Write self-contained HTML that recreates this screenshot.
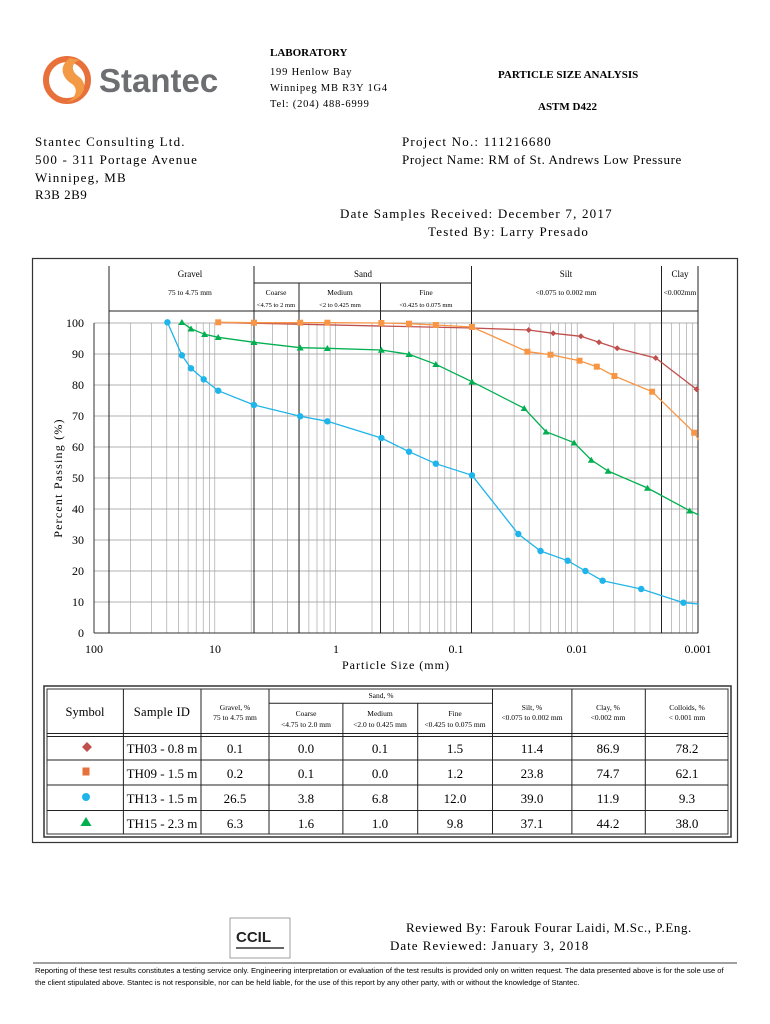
<!DOCTYPE html>
<html><head><meta charset="utf-8"><style>
html,body{margin:0;padding:0;background:#fff}
svg{display:block}
.s{font-family:"Liberation Serif",serif}
.a{font-family:"Liberation Sans",sans-serif}
</style></head><body>
<svg width="770" height="1024" viewBox="0 0 770 1024" xmlns="http://www.w3.org/2000/svg">
<!-- Logo -->
<circle cx="67" cy="80" r="21" fill="none" stroke="#e8703a" stroke-width="6"/>
<path d="M70 58 C58 66 62 78 72 84 C80 90 74 100 66 102 C84 100 90 84 78 76 C70 70 72 62 80 60 Z" fill="#f29a45"/>
<text x="99" y="92" class="a" font-size="33" fill="#6d6e71" font-weight="bold">Stantec</text>
<g class="s" font-size="10.5" fill="#000">
<text x="270" y="56" font-weight="bold" font-size="11">LABORATORY</text>
<text x="270" y="75" letter-spacing="0.8">199 Henlow Bay</text>
<text x="270" y="91" letter-spacing="0.8">Winnipeg MB R3Y 1G4</text>
<text x="270" y="107" letter-spacing="0.8">Tel: (204) 488-6999</text>
<text x="498" y="78" font-weight="bold" font-size="11">PARTICLE SIZE ANALYSIS</text>
<text x="538" y="110" font-weight="bold" font-size="11">ASTM D422</text>
</g>
<g class="s" font-size="13" fill="#000" letter-spacing="1.2">
<text x="35" y="146">Stantec Consulting Ltd.</text>
<text x="35" y="164">500 - 311 Portage Avenue</text>
<text x="35" y="182">Winnipeg, MB</text>
<text x="35" y="199" letter-spacing="0.5">R3B 2B9</text>
<text x="402" y="146">Project No.: 111216680</text>
<text x="402" y="164" letter-spacing="0.6">Project Name: RM of St. Andrews Low Pressure</text>
<text x="340" y="218">Date Samples Received: December 7, 2017</text>
<text x="428" y="236">Tested By: Larry Presado</text>
</g>
<!-- frame -->
<rect x="32.5" y="258.5" width="705" height="584" fill="none" stroke="#333" stroke-width="1.2"/>
<!-- grid -->
<g stroke="#999" stroke-width="0.7">
<line x1="94" y1="323" x2="698" y2="323"/><line x1="94" y1="354" x2="698" y2="354"/><line x1="94" y1="385" x2="698" y2="385"/><line x1="94" y1="416" x2="698" y2="416"/><line x1="94" y1="447" x2="698" y2="447"/><line x1="94" y1="478" x2="698" y2="478"/><line x1="94" y1="509" x2="698" y2="509"/><line x1="94" y1="540" x2="698" y2="540"/><line x1="94" y1="571" x2="698" y2="571"/><line x1="94" y1="602" x2="698" y2="602"/>
</g>
<g stroke="#999" stroke-width="0.6">
<line x1="130.4" y1="323" x2="130.4" y2="633"/><line x1="151.7" y1="323" x2="151.7" y2="633"/><line x1="166.8" y1="323" x2="166.8" y2="633"/><line x1="178.5" y1="323" x2="178.5" y2="633"/><line x1="188.1" y1="323" x2="188.1" y2="633"/><line x1="196.2" y1="323" x2="196.2" y2="633"/><line x1="203.2" y1="323" x2="203.2" y2="633"/><line x1="209.3" y1="323" x2="209.3" y2="633"/><line x1="214.8" y1="323" x2="214.8" y2="633"/>
<line x1="251.2" y1="323" x2="251.2" y2="633"/><line x1="272.5" y1="323" x2="272.5" y2="633"/><line x1="287.6" y1="323" x2="287.6" y2="633"/><line x1="299.3" y1="323" x2="299.3" y2="633"/><line x1="308.9" y1="323" x2="308.9" y2="633"/><line x1="317" y1="323" x2="317" y2="633"/><line x1="324" y1="323" x2="324" y2="633"/><line x1="330.1" y1="323" x2="330.1" y2="633"/><line x1="335.6" y1="323" x2="335.6" y2="633"/>
<line x1="372" y1="323" x2="372" y2="633"/><line x1="393.3" y1="323" x2="393.3" y2="633"/><line x1="408.4" y1="323" x2="408.4" y2="633"/><line x1="420.1" y1="323" x2="420.1" y2="633"/><line x1="429.7" y1="323" x2="429.7" y2="633"/><line x1="437.8" y1="323" x2="437.8" y2="633"/><line x1="444.8" y1="323" x2="444.8" y2="633"/><line x1="450.9" y1="323" x2="450.9" y2="633"/><line x1="456.4" y1="323" x2="456.4" y2="633"/>
<line x1="492.8" y1="323" x2="492.8" y2="633"/><line x1="514.1" y1="323" x2="514.1" y2="633"/><line x1="529.2" y1="323" x2="529.2" y2="633"/><line x1="540.9" y1="323" x2="540.9" y2="633"/><line x1="550.5" y1="323" x2="550.5" y2="633"/><line x1="558.6" y1="323" x2="558.6" y2="633"/><line x1="565.6" y1="323" x2="565.6" y2="633"/><line x1="571.7" y1="323" x2="571.7" y2="633"/><line x1="577.2" y1="323" x2="577.2" y2="633"/>
<line x1="613.6" y1="323" x2="613.6" y2="633"/><line x1="634.9" y1="323" x2="634.9" y2="633"/><line x1="650" y1="323" x2="650" y2="633"/><line x1="661.7" y1="323" x2="661.7" y2="633"/><line x1="671.3" y1="323" x2="671.3" y2="633"/><line x1="679.4" y1="323" x2="679.4" y2="633"/><line x1="686.4" y1="323" x2="686.4" y2="633"/><line x1="692.5" y1="323" x2="692.5" y2="633"/>
</g>
<line x1="94" y1="633" x2="698" y2="633" stroke="#333" stroke-width="1"/>
<line x1="94" y1="323" x2="94" y2="633" stroke="#333" stroke-width="1"/>
<!-- zone lines -->
<g stroke="#222" stroke-width="1">
<line x1="109" y1="266" x2="109" y2="633"/>
<line x1="254" y1="266" x2="254" y2="633"/>
<line x1="299" y1="283" x2="299" y2="633"/>
<line x1="380.5" y1="283" x2="380.5" y2="633"/>
<line x1="471.5" y1="266" x2="471.5" y2="633"/>
<line x1="661.5" y1="266" x2="661.5" y2="633"/>
<line x1="698" y1="266" x2="698" y2="633"/>
<line x1="254" y1="283" x2="471.5" y2="283"/>
<line x1="109" y1="311" x2="698" y2="311"/>
</g>
<g class="s" font-size="7.5" fill="#000" text-anchor="middle">
<text x="190" y="277" font-size="9">Gravel</text>
<text x="190" y="295">75 to 4.75 mm</text>
<text x="363" y="277" font-size="9">Sand</text>
<text x="276" y="295">Coarse</text>
<text x="276" y="307" font-size="6.5">&lt;4.75 to 2 mm</text>
<text x="340" y="295">Medium</text>
<text x="340" y="307" font-size="6.5">&lt;2 to 0.425 mm</text>
<text x="426" y="295">Fine</text>
<text x="426" y="307" font-size="6.5">&lt;0.425 to 0.075 mm</text>
<text x="566" y="277" font-size="9">Silt</text>
<text x="566" y="295">&lt;0.075 to 0.002 mm</text>
<text x="680" y="277" font-size="9">Clay</text>
<text x="680" y="295">&lt;0.002mm</text>
</g>
<!-- series -->
<polyline fill="none" stroke="#c0504d" stroke-width="1.3" points="218.2,322.5 472,328 528.7,330 553.2,333.3 580.9,336.3 599,342.3 617.2,348.3 655.7,358 696.5,389.3 698,390"/>
<g fill="#c0504d">
<path d="M528.7,327 l3,3 -3,3 -3,-3z"/><path d="M553.2,330.3 l3,3 -3,3 -3,-3z"/><path d="M580.9,333.3 l3,3 -3,3 -3,-3z"/><path d="M599,339.3 l3,3 -3,3 -3,-3z"/><path d="M617.2,345.3 l3,3 -3,3 -3,-3z"/><path d="M655.7,355 l3,3 -3,3 -3,-3z"/><path d="M696.5,386.3 l3,3 -3,3 -3,-3z"/>
</g>
<polyline fill="none" stroke="#f79646" stroke-width="1.3" points="218.2,322.3 254,322.7 300.2,322.7 327.4,322.7 381.4,323 409,323.7 435.8,325 472,327 527.4,351.7 550.5,354.7 579.5,360.7 596.8,366.7 614.4,376 652.1,391.7 694.2,432.7 698.8,440"/>
<g fill="#f79646">
<rect x="215.2" y="319.3" width="6" height="6"/><rect x="251" y="319.7" width="6" height="6"/><rect x="297.2" y="319.7" width="6" height="6"/><rect x="324.4" y="319.7" width="6" height="6"/><rect x="378.4" y="320" width="6" height="6"/><rect x="406" y="320.7" width="6" height="6"/><rect x="432.8" y="322" width="6" height="6"/><rect x="469" y="324" width="6" height="6"/><rect x="524.4" y="348.7" width="6" height="6"/><rect x="547.5" y="351.7" width="6" height="6"/><rect x="576.5" y="357.7" width="6" height="6"/><rect x="593.8" y="363.7" width="6" height="6"/><rect x="611.4" y="373" width="6" height="6"/><rect x="649.1" y="388.7" width="6" height="6"/><rect x="691.2" y="429.7" width="6" height="6"/>
</g>
<polyline fill="none" stroke="#00b050" stroke-width="1.3" points="181.9,322.3 191,328.7 204.6,334.3 218.2,337.3 254,342.3 300.2,347.7 327.4,348.3 381.4,350 409,354.3 435.8,364.3 472,381.7 524.2,408.3 546,431.7 574.1,442.7 591.3,460 608.1,471 647.5,488 689.7,510.7 698.8,515"/>
<g fill="#00b050">
<path d="M181.9,319 l3.5,6 h-7z"/><path d="M191,325.5 l3.5,6 h-7z"/><path d="M204.6,331 l3.5,6 h-7z"/><path d="M218.2,334 l3.5,6 h-7z"/><path d="M254,339 l3.5,6 h-7z"/><path d="M300.2,344.5 l3.5,6 h-7z"/><path d="M327.4,345 l3.5,6 h-7z"/><path d="M381.4,346.7 l3.5,6 h-7z"/><path d="M409,351 l3.5,6 h-7z"/><path d="M435.8,361 l3.5,6 h-7z"/><path d="M472,378.5 l3.5,6 h-7z"/><path d="M524.2,405 l3.5,6 h-7z"/><path d="M546,428.5 l3.5,6 h-7z"/><path d="M574.1,439.5 l3.5,6 h-7z"/><path d="M591.3,456.7 l3.5,6 h-7z"/><path d="M608.1,467.7 l3.5,6 h-7z"/><path d="M647.5,484.7 l3.5,6 h-7z"/><path d="M689.7,507.5 l3.5,6 h-7z"/>
</g>
<polyline fill="none" stroke="#1fb4ea" stroke-width="1.3" points="167.4,322.3 181.9,355.3 191,368.3 203.7,379.3 218.2,390.7 254,405 300.2,416.3 327.4,421.3 381.4,438 409,451.7 435.8,463.7 472,475.3 518.3,534 540.5,551 567.7,560.7 585.4,571 602.6,580.7 641.2,589 683.4,602.7 698.8,604"/>
<g fill="#1fb4ea">
<circle cx="167.4" cy="322.3" r="3.2"/><circle cx="181.9" cy="355.3" r="3.2"/><circle cx="191" cy="368.3" r="3.2"/><circle cx="203.7" cy="379.3" r="3.2"/><circle cx="218.2" cy="390.7" r="3.2"/><circle cx="254" cy="405" r="3.2"/><circle cx="300.2" cy="416.3" r="3.2"/><circle cx="327.4" cy="421.3" r="3.2"/><circle cx="381.4" cy="438" r="3.2"/><circle cx="409" cy="451.7" r="3.2"/><circle cx="435.8" cy="463.7" r="3.2"/><circle cx="472" cy="475.3" r="3.2"/><circle cx="518.3" cy="534" r="3.2"/><circle cx="540.5" cy="551" r="3.2"/><circle cx="567.7" cy="560.7" r="3.2"/><circle cx="585.4" cy="571" r="3.2"/><circle cx="602.6" cy="580.7" r="3.2"/><circle cx="641.2" cy="589" r="3.2"/><circle cx="683.4" cy="602.7" r="3.2"/>
</g>
<!-- axis labels -->
<g class="s" font-size="12" fill="#000" text-anchor="end">
<text x="84" y="327">100</text><text x="84" y="358">90</text><text x="84" y="389">80</text><text x="84" y="420">70</text><text x="84" y="451">60</text><text x="84" y="482">50</text><text x="84" y="513">40</text><text x="84" y="544">30</text><text x="84" y="575">20</text><text x="84" y="606">10</text><text x="84" y="637">0</text>
</g>
<g class="s" font-size="12" fill="#000" text-anchor="middle">
<text x="94" y="653">100</text><text x="215" y="653">10</text><text x="336" y="653">1</text><text x="456" y="653">0.1</text><text x="577" y="653">0.01</text><text x="698" y="653">0.001</text>
<text x="396" y="669" letter-spacing="1">Particle Size (mm)</text>
<text transform="translate(62,478) rotate(-90)" letter-spacing="1.2">Percent Passing (%)</text>
</g>
<!-- table -->
<rect x="44" y="686" width="687" height="151" fill="none" stroke="#333" stroke-width="1.5"/>
<rect x="47" y="689" width="681" height="145" fill="none" stroke="#333" stroke-width="1"/>
<g stroke="#222" stroke-width="1">
<line x1="123.4" y1="689" x2="123.4" y2="834"/><line x1="201" y1="689" x2="201" y2="834"/><line x1="269" y1="689" x2="269" y2="834"/>
<line x1="342.9" y1="703" x2="342.9" y2="834"/><line x1="417.7" y1="703" x2="417.7" y2="834"/>
<line x1="492.5" y1="689" x2="492.5" y2="834"/><line x1="571.9" y1="689" x2="571.9" y2="834"/><line x1="645.3" y1="689" x2="645.3" y2="834"/>
<line x1="269" y1="703.3" x2="492.5" y2="703.3"/>
<line x1="47" y1="733.5" x2="728" y2="733.5"/><line x1="47" y1="736.5" x2="728" y2="736.5"/>
<line x1="47" y1="760" x2="728" y2="760"/><line x1="47" y1="785" x2="728" y2="785"/><line x1="47" y1="810.5" x2="728" y2="810.5"/>
</g>
<g class="s" fill="#000" text-anchor="middle" font-size="7.5">
<text x="85" y="716" font-size="12.5">Symbol</text>
<text x="162" y="716" font-size="12.5" letter-spacing="0.3">Sample ID</text>
<text x="235" y="710">Gravel, %</text><text x="235" y="720">75 to 4.75 mm</text>
<text x="381" y="698">Sand, %</text>
<text x="306" y="716">Coarse</text><text x="306" y="727">&lt;4.75 to 2.0 mm</text>
<text x="380" y="716">Medium</text><text x="380" y="727">&lt;2.0 to 0.425 mm</text>
<text x="455" y="716">Fine</text><text x="455" y="727">&lt;0.425 to 0.075 mm</text>
<text x="532" y="710">Silt, %</text><text x="532" y="720">&lt;0.075 to 0.002 mm</text>
<text x="608" y="710">Clay, %</text><text x="608" y="720">&lt;0.002 mm</text>
<text x="687" y="710">Colloids, %</text><text x="687" y="720">&lt; 0.001 mm</text>
</g>
<path d="M87,742 l5,5 -5,5 -5,-5z" fill="#c0504d"/>
<rect x="82.5" y="767.5" width="7" height="8" fill="#e8703a"/>
<circle cx="86" cy="797" r="4" fill="#1fb4ea"/>
<path d="M86,817 l5.5,9 h-11z" fill="#00b050"/>
<g class="s" fill="#000" font-size="13" text-anchor="middle">
<text x="162" y="753">TH03 - 0.8 m</text><text x="235" y="753">0.1</text><text x="306" y="753">0.0</text><text x="380" y="753">0.1</text><text x="455" y="753">1.5</text><text x="532" y="753">11.4</text><text x="608" y="753">86.9</text><text x="687" y="753">78.2</text>
<text x="162" y="778">TH09 - 1.5 m</text><text x="235" y="778">0.2</text><text x="306" y="778">0.1</text><text x="380" y="778">0.0</text><text x="455" y="778">1.2</text><text x="532" y="778">23.8</text><text x="608" y="778">74.7</text><text x="687" y="778">62.1</text>
<text x="162" y="803">TH13 - 1.5 m</text><text x="235" y="803">26.5</text><text x="306" y="803">3.8</text><text x="380" y="803">6.8</text><text x="455" y="803">12.0</text><text x="532" y="803">39.0</text><text x="608" y="803">11.9</text><text x="687" y="803">9.3</text>
<text x="162" y="828">TH15 - 2.3 m</text><text x="235" y="828">6.3</text><text x="306" y="828">1.6</text><text x="380" y="828">1.0</text><text x="455" y="828">9.8</text><text x="532" y="828">37.1</text><text x="608" y="828">44.2</text><text x="687" y="828">38.0</text>
</g>
<!-- bottom -->
<rect x="230" y="918" width="60" height="40" fill="#fff" stroke="#888" stroke-width="0.8"/>
<text x="236" y="942" class="a" font-size="15" font-weight="bold" fill="#222">CCIL</text>
<line x1="236" y1="948" x2="284" y2="948" stroke="#666" stroke-width="2"/>
<g class="s" font-size="13" fill="#000">
<text x="406" y="932" letter-spacing="0.55">Reviewed By: Farouk Fourar Laidi, M.Sc., P.Eng.</text>
<text x="390" y="950" letter-spacing="1">Date Reviewed: January 3, 2018</text>
</g>
<line x1="33" y1="963" x2="737" y2="963" stroke="#000" stroke-width="0.8"/>
<g class="a" font-size="7.6" fill="#000">
<text x="35" y="973">Reporting of these test results constitutes a testing service only.  Engineering interpretation or evaluation of the test results is provided only on written request.  The data presented above is for the sole use of</text>
<text x="35" y="985">the client stipulated above.  Stantec is not responsible, nor can be held liable, for the use of this report by any other party, with or without the knowledge of Stantec.</text>
</g>
</svg>
</body></html>
